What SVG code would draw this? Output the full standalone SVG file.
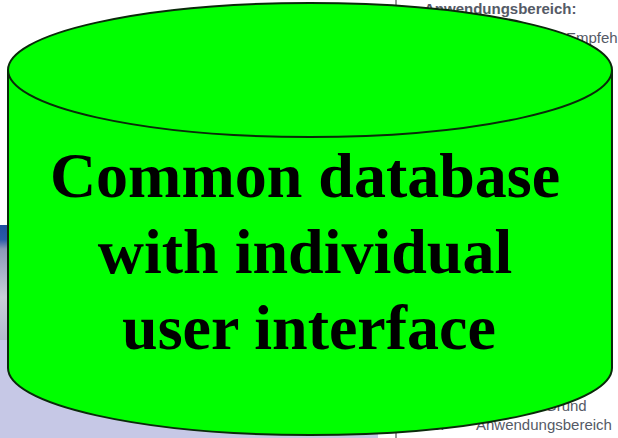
<svg xmlns="http://www.w3.org/2000/svg" width="618" height="438" viewBox="0 0 618 438">
  <style>
    .doc { font-family: "Liberation Sans", Arial, sans-serif; fill: #555a66; font-size: 15px; }
    .db { fill: #00ff00; stroke: #0a2a0a; stroke-width: 2; }
    .label { font-family: "Liberation Serif", "Times New Roman", serif; font-weight: bold; font-size: 64px; fill: #000; text-anchor: middle; }
  </style>
  <defs>
    <linearGradient id="photo" x1="0" y1="0" x2="0" y2="1">
      <stop offset="0" stop-color="#1e4fa0"/>
      <stop offset="0.12" stop-color="#2a5aa8"/>
      <stop offset="0.2" stop-color="#8a9ab8"/>
      <stop offset="0.6" stop-color="#c9ced8"/>
      <stop offset="1" stop-color="#b0b8cc"/>
    </linearGradient>
  </defs>

  <!-- page behind the drawing -->
  <rect x="0" y="0" width="618" height="438" fill="#ffffff"/>
  <rect x="0" y="225" width="12" height="120" fill="url(#photo)"/>
  <rect x="0" y="340" width="378" height="98" fill="#c6c8e6"/>
  <line x1="396" y1="0" x2="396" y2="12" stroke="#555" stroke-width="1.2"/>
  <line x1="396" y1="424" x2="396" y2="438" stroke="#555" stroke-width="1.2"/>
  <text class="doc" x="424" y="14" font-size="12" font-weight="bold">Anwendungsbereich:</text>
  <text class="doc" x="566" y="43">Empfeh</text>
  <text class="doc" x="520" y="411">auf Grund</text>
  <text class="doc" x="432" y="430">6.</text>
  <text class="doc" x="476" y="430">Anwendungsbereich</text>

  <!-- database cylinder -->
  <g id="database">
    <path class="db" d="M8,70 L8,368 A302,67 0 0 0 612,368 L612,70"/>
    <ellipse class="db" cx="310" cy="70" rx="302" ry="67"/>
    <text class="label" x="305" y="197">Common database</text>
    <text class="label" x="305" y="273">with individual</text>
    <text class="label" x="309" y="349">user interface</text>
  </g>
</svg>
